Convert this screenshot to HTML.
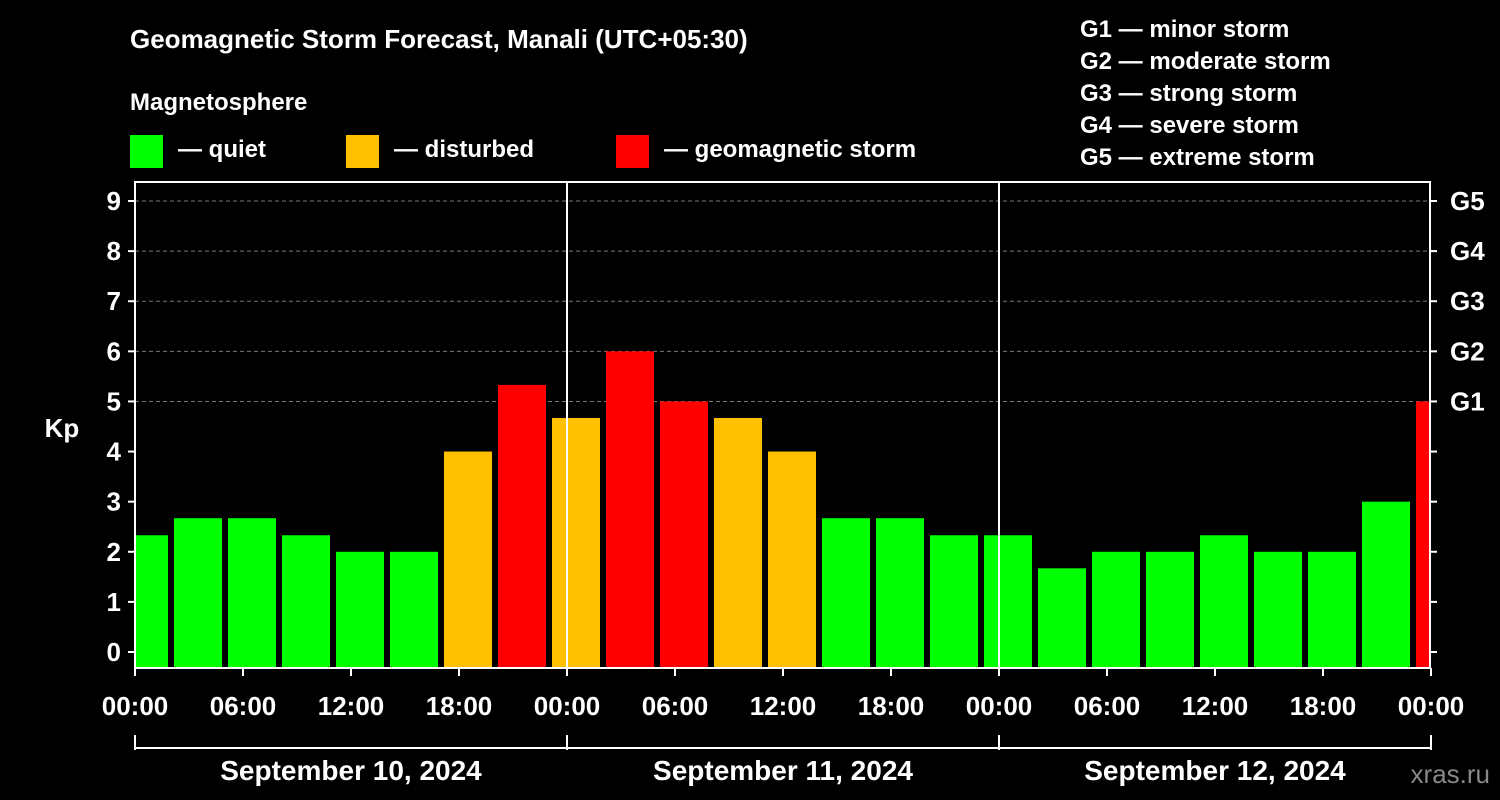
<!DOCTYPE html>
<html><head><meta charset="utf-8"><style>
body{margin:0;background:#000;}
svg{display:block;font-family:"Liberation Sans",Arial,sans-serif;font-weight:bold;}
</style></head><body>
<svg width="1500" height="800" viewBox="0 0 1500 800" id="chart">
<rect width="1500" height="800" fill="#000"/>
<text x="130" y="48" fill="#fff" font-size="26">Geomagnetic Storm Forecast, Manali (UTC+05:30)</text>
<text x="130" y="110" fill="#fff" font-size="24">Magnetosphere</text>
<g><rect x="130" y="135" width="33" height="33" fill="#00ff00"/><text x="178" y="157" fill="#fff" font-size="24">— quiet</text></g>
<g><rect x="346" y="135" width="33" height="33" fill="#ffc000"/><text x="394" y="157" fill="#fff" font-size="24">— disturbed</text></g>
<g><rect x="616" y="135" width="33" height="33" fill="#ff0000"/><text x="664" y="157" fill="#fff" font-size="24">— geomagnetic storm</text></g>
<g fill="#fff" font-size="24">
<text x="1080" y="37">G1 — minor storm</text>
<text x="1080" y="69">G2 — moderate storm</text>
<text x="1080" y="101">G3 — strong storm</text>
<text x="1080" y="133">G4 — severe storm</text>
<text x="1080" y="165">G5 — extreme storm</text>
</g>
<text x="62" y="437" fill="#fff" font-size="26" text-anchor="middle">Kp</text>
<text x="1490" y="783" fill="#888" font-size="26" text-anchor="end" font-weight="normal">xras.ru</text>
<g id="plot"></g>
</svg>
<script>
const kpValues=[2.33,2.67,2.67,2.33,2,2,4,5.33,4.67,6,5,4.67,4,2.67,2.67,2.33,2.33,1.67,2,2,2.33,2,2,3,5];
const yTicks=[0,1,2,3,4,5,6,7,8,9];
const gLabels=["","","","","","G1","G2","G3","G4","G5"];
const xTickLabels=["00:00","06:00","12:00","18:00","00:00","06:00","12:00","18:00","00:00","06:00","12:00","18:00","00:00"];
const dayLabels=["September 10, 2024","September 11, 2024","September 12, 2024"];
const NS="http://www.w3.org/2000/svg";
const g=document.getElementById('plot');
const X0=135,X1=1430,PX_H=54/3,Y0=652,PY=(652-201)/9,YB=668,YT=182;
const xs=h=>X0+h*PX_H, ys=v=>Y0-v*PY;
function el(t,a,p){const e=document.createElementNS(NS,t);for(const k in a)e.setAttribute(k,a[k]);(p||g).appendChild(e);return e;}
// clip
const defs=el('defs',{});const cp=el('clipPath',{id:'pc'},defs);el('rect',{x:X0,y:YT,width:X1-X0,height:YB-YT},cp);
// grid
yTicks.forEach(v=>{if(v>=5){const l=el('line',{x1:X0,x2:X1,y1:ys(v),y2:ys(v),stroke:'#777','stroke-dasharray':'4,3','stroke-width':1});

}});
// bars
const bg=el('g',{'clip-path':'url(#pc)'});
kpValues.forEach((v,i)=>{const c=0.5+3*i;const col=v>=5?'#ff0000':(v>=4?'#ffc000':'#00ff00');
const r=el('rect',{x:xs(c)-24,width:48,y:ys(v),height:YB-ys(v),fill:col},bg);

});
// day lines
[1,2].forEach(d=>{const l=el('line',{x1:xs(24*d),x2:xs(24*d),y1:YT,y2:YB,stroke:'#fff','stroke-width':2});

});
// frame
const f=el('rect',{x:X0,y:YT,width:X1-X0,height:YB-YT,fill:'none',stroke:'#fff','stroke-width':2});


// y ticks
yTicks.forEach((v,i)=>{const y=ys(v);
el('line',{x1:X0-7,x2:X0,y1:y,y2:y,stroke:'#fff','stroke-width':2});
el('line',{x1:X1,x2:X1+7,y1:y,y2:y,stroke:'#fff','stroke-width':2});
const t=el('text',{x:X0-14,y:y+9,fill:'#fff','font-size':26,'text-anchor':'end'});t.textContent=v;


if(gLabels[i]){const r=el('text',{x:X1+20,y:y+9,fill:'#fff','font-size':26});r.textContent=gLabels[i];

}});
// x ticks
xTickLabels.forEach((s,i)=>{const x=xs(6*i);
el('line',{x1:x,x2:x,y1:YB,y2:YB+8,stroke:'#fff','stroke-width':2});
const t=el('text',{x:x,y:715,fill:'#fff','font-size':26,'text-anchor':'middle'});t.textContent=s;

});
// date bracket
el('line',{x1:X0,x2:X1,y1:748,y2:748,stroke:'#fff','stroke-width':2});
[0,1,2,3].forEach(d=>el('line',{x1:xs(24*d),x2:xs(24*d),y1:735,y2:750,stroke:'#fff','stroke-width':2}));
dayLabels.forEach((s,d)=>{const t=el('text',{x:xs(24*d+12),y:780,fill:'#fff','font-size':28,'text-anchor':'middle'});t.textContent=s;

});
</script>
</body></html>
